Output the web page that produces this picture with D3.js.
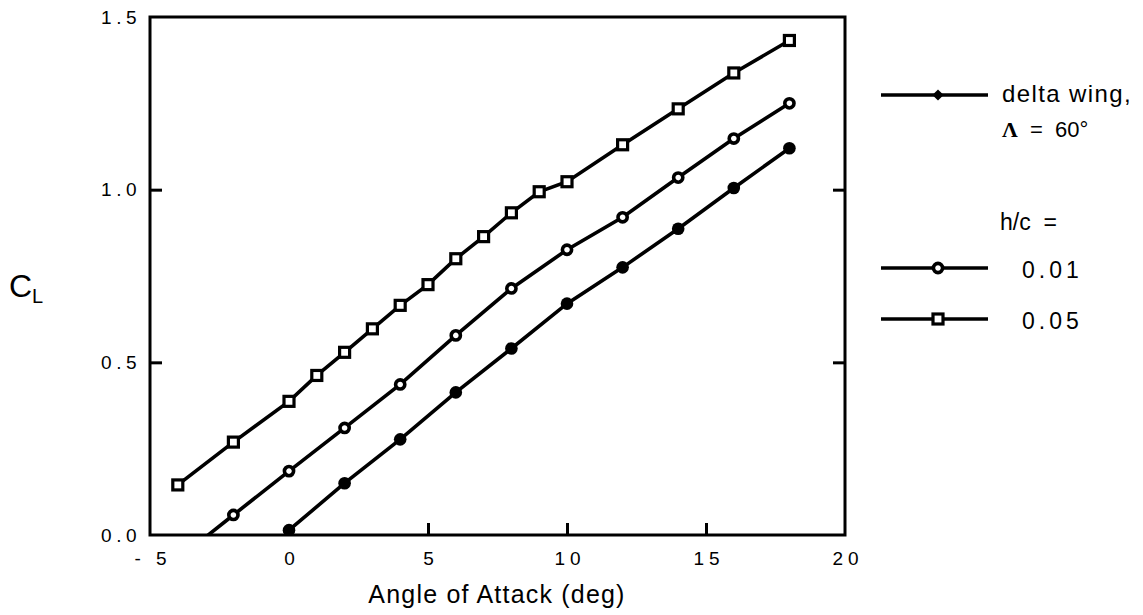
<!DOCTYPE html>
<html>
<head>
<meta charset="utf-8">
<script src="https://cdn.jsdelivr.net/npm/d3@7"></script>
<style>
  body { margin: 0; background: #fff; }
  text { font-family: "Liberation Sans", Arial, sans-serif; fill: #000; white-space: pre; }
</style>
</head>
<body>
<div class="c_chart"></div>
<script>
/* DATA
------------------------------------------------------ */
const deltaAlpha = [0, 2, 4, 6, 8, 10, 12, 14, 16, 18];
const deltaCL    = [0.014, 0.15, 0.277, 0.413, 0.54, 0.67, 0.775, 0.887, 1.005, 1.12];

// first point sits below the axis and is clipped away
const hc01Alpha = [-4, -2, 0, 2, 4, 6, 8, 10, 12, 14, 16, 18];
const hc01CL    = [-0.07, 0.058, 0.185, 0.31, 0.436, 0.578, 0.714, 0.826, 0.92, 1.035, 1.148, 1.25];

const hc05Alpha = [-4, -2, 0, 1, 2, 3, 4, 5, 6, 7, 8, 9, 10, 12, 14, 16, 18];
const hc05CL    = [0.145, 0.269, 0.387, 0.462, 0.529, 0.597, 0.665, 0.725, 0.80, 0.864, 0.933, 0.994, 1.023, 1.13, 1.234, 1.338, 1.432];

const xTicks = [-5, 0, 5, 10, 15, 20];
const yTicks = [0, 0.5, 1.0, 1.5];

/* SVG, FORMAT
------------------------------------------------------ */
const width = 1143, height = 615;
const margin = {top: 17, right: 298, bottom: 80, left: 150};
const iw = width - margin.left - margin.right;
const ih = height - margin.top - margin.bottom;

const svg = d3.select(".c_chart").append("svg")
  .attr("width", width)
  .attr("height", height);

const x = d3.scaleLinear().domain([-5, 20]).range([0, iw]);
const y = d3.scaleLinear().domain([0, 1.5]).range([ih, 0]);

const g = svg.append("g").attr("transform", `translate(${margin.left},${margin.top})`);

svg.append("defs").append("clipPath").attr("id", "plotclip")
  .append("rect").attr("width", iw).attr("height", ih);

/* AXES
------------------------------------------------------ */
const tickLen = 12;
const fmtY = d3.format(".1f");

const xAxis = d3.axisBottom(x).tickValues(xTicks).tickSizeInner(-tickLen).tickSizeOuter(0).tickPadding(17)
  .tickFormat(d => String(d).replace("-", "- "));
g.append("g").attr("transform", `translate(0,${ih})`).call(xAxis)
  .call(a => a.select(".domain").remove())
  .call(a => a.selectAll(".tick line").attr("stroke", "#000").attr("stroke-width", 3)
    .attr("display", d => (d === -5 || d === 20 || d === 0) ? "none" : null))
  .call(a => a.selectAll(".tick text").attr("font-size", 19).attr("letter-spacing", 5).attr("dx", 2.5)
    .attr("font-family", "Liberation Sans, Arial, sans-serif").attr("fill", "#000"));

const yAxis = d3.axisLeft(y).tickValues(yTicks).tickSizeInner(-tickLen).tickSizeOuter(0).tickPadding(9)
  .tickFormat(fmtY);
g.append("g").call(yAxis)
  .call(a => a.select(".domain").remove())
  .call(a => a.selectAll(".tick line").attr("stroke", "#000").attr("stroke-width", 3)
    .attr("display", d => (d === 0 || d === 1.5) ? "none" : null))
  .call(a => a.selectAll(".tick text").attr("font-size", 19).attr("letter-spacing", 4.5)
    .attr("font-family", "Liberation Sans, Arial, sans-serif").attr("fill", "#000"));

const yRight = d3.axisRight(y).tickValues([0.5, 1.0]).tickSizeInner(-tickLen).tickSizeOuter(0).tickFormat("");
g.append("g").attr("transform", `translate(${iw},0)`).call(yRight)
  .call(a => a.select(".domain").remove())
  .call(a => a.selectAll(".tick line").attr("stroke", "#000").attr("stroke-width", 3));

// frame
g.append("rect").attr("width", iw).attr("height", ih)
  .attr("fill", "none").attr("stroke", "#000").attr("stroke-width", 3);

// axis titles
svg.append("text")
  .attr("x", 497).attr("y", 603)
  .attr("text-anchor", "middle").attr("font-size", 25).attr("letter-spacing", 1.2)
  .text("Angle of Attack (deg)");

const cl = svg.append("text").attr("x", 9).attr("y", 297).attr("font-size", 32);
cl.append("tspan").text("C");
cl.append("tspan").attr("font-size", 20).attr("dy", 6).text("L");

/* SERIES
------------------------------------------------------ */
const line = d3.line().x(d => x(d[0])).y(d => y(d[1]));

const series = [
  {a: deltaAlpha, c: deltaCL, marker: "dot"},
  {a: hc01Alpha, c: hc01CL, marker: "circle"},
  {a: hc05Alpha, c: hc05CL, marker: "square"}
];

function drawMarker(sel, type) {
  if (type === "square") {
    sel.append("rect").attr("x", -5).attr("y", -5).attr("width", 10).attr("height", 10)
      .attr("fill", "#fff").attr("stroke", "#000").attr("stroke-width", 3.2);
  } else if (type === "circle") {
    sel.append("circle").attr("r", 4.6).attr("fill", "#fff").attr("stroke", "#000").attr("stroke-width", 3.6);
  } else if (type === "diamond") {
    sel.append("path").attr("d", d3.symbol(d3.symbolDiamond2, 80)()).attr("fill", "#000");
  } else {
    sel.append("circle").attr("r", 6.3).attr("fill", "#000");
  }
}

const plot = g.append("g").attr("clip-path", "url(#plotclip)");

series.forEach(s => {
  const pts = s.a.map((a, i) => [a, s.c[i]]);
  plot.append("path").datum(pts).attr("d", line)
    .attr("fill", "none").attr("stroke", "#000").attr("stroke-width", 3.6);
  plot.selectAll(null).data(pts.filter(p => p[1] >= 0)).enter().append("g")
    .attr("transform", p => `translate(${x(p[0])},${y(p[1])})`)
    .each(function() { drawMarker(d3.select(this), s.marker); });
});

/* LEGEND
------------------------------------------------------ */
const legend = [
  {yPos: 95, marker: "diamond"},
  {yPos: 268, marker: "circle", label: "0.01"},
  {yPos: 319, marker: "square", label: "0.05"}
];
legend.forEach(l => {
  svg.append("line").attr("x1", 881).attr("x2", 988).attr("y1", l.yPos).attr("y2", l.yPos)
    .attr("stroke", "#000").attr("stroke-width", 3.4);
  const m = svg.append("g").attr("transform", `translate(938,${l.yPos})`);
  drawMarker(m, l.marker);
  if (l.label) {
    svg.append("text").attr("x", 1022).attr("y", l.yPos + 10).attr("font-size", 23)
      .attr("letter-spacing", 4).text(l.label);
  }
});
svg.append("text").attr("x", 1002).attr("y", 102).attr("font-size", 24).attr("letter-spacing", 1.4)
  .text("delta wing,");
const lam = svg.append("text").attr("x", 1002).attr("y", 137).attr("font-size", 22);
lam.append("tspan").attr("font-family", "Liberation Serif, serif").attr("font-weight", "bold").text("Λ");
lam.append("tspan").text("  =  60°");
svg.append("text").attr("x", 1000).attr("y", 230).attr("font-size", 23).text("h/c  =");
</script>
</body>
</html>
